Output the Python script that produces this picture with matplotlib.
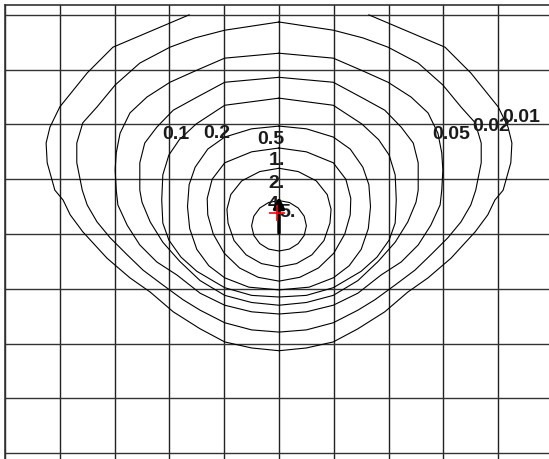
"""
Concentration isolines around a point source, drawn on a plain square grid.
Saves out.png (549x459 px).
"""
import numpy as np
import matplotlib
matplotlib.use('Agg')
import matplotlib.pyplot as plt

# Grid units: one cell = 1, source column at x = 0
GRID_X = np.arange(-5, 5)
GRID_Y = np.arange(-4, 5)

# Isoline levels and their labels
LEVELS = [0.01, 0.02, 0.05, 0.1, 0.2, 0.5, 1, 2, 4]

# Right half of every isoline (mirrored to the left)
c001_x = [1.64, 3.03, 3.50, 4.00, 4.18, 4.25, 4.23, 4.09, 3.94, 3.81, 3.58, 3.14, 2.72, 2.35, 1.93, 1.44, 0.99, 0.50, 0]
c001_y = [4.00, 3.41, 2.94, 2.32, 1.95, 1.66, 1.30, 0.80, 0.62, 0.35, 0.04, -0.44, -0.80, -1.06, -1.42, -1.73, -1.97, -2.08, -2.13]

c002_x = [0, 0.99, 1.53, 1.99, 2.54, 2.99, 3.32, 3.58, 3.69, 3.69, 3.59, 3.50, 3.32, 3.08, 2.77, 2.48, 2.12, 1.75, 1.44, 0.99, 0.50, 0]
c002_y = [3.87, 3.72, 3.58, 3.41, 3.12, 2.72, 2.32, 2.03, 1.66, 1.30, 0.80, 0.53, 0.22, -0.07, -0.38, -0.66, -0.93, -1.20, -1.39, -1.62, -1.75, -1.79]

c005_x = [0, 0.99, 1.50, 1.99, 2.41, 2.72, 2.90, 2.97, 2.99, 2.97, 2.94, 2.77, 2.54, 2.23, 1.86, 1.44, 0.99, 0.50, 0]
c005_y = [3.30, 3.21, 2.99, 2.77, 2.50, 2.21, 1.84, 1.48, 1.17, 0.80, 0.53, 0.16, -0.20, -0.51, -0.75, -1.08, -1.30, -1.42, -1.46]

c01_x = [0, 0.99, 1.53, 1.93, 2.23, 2.45, 2.54, 2.54, 2.50, 2.35, 2.12, 1.81, 1.44, 0.99, 0.50, 0]
c01_y = [2.86, 2.77, 2.48, 2.26, 1.95, 1.66, 1.30, 0.80, 0.58, 0.22, -0.15, -0.50, -0.85, -1.12, -1.25, -1.30]

c02_x = [0, 0.99, 1.51, 1.82, 2.01, 2.12, 2.14, 2.12, 2.01, 1.79, 1.50, 0.99, 0.50, 0]
c02_y = [2.48, 2.35, 2.01, 1.72, 1.44, 1.08, 0.62, 0.20, -0.11, -0.42, -0.68, -0.98, -1.12, -1.15]

c05_x = [0, 0.50, 0.99, 1.30, 1.53, 1.64, 1.67, 1.63, 1.50, 1.28, 0.99, 0.55, 0]
c05_y = [1.97, 1.92, 1.77, 1.55, 1.22, 0.90, 0.50, 0.10, -0.28, -0.58, -0.80, -0.97, -1.02]

c1_x = [0, 0.50, 0.99, 1.22, 1.31, 1.30, 1.20, 1.00, 0.72, 0.38, 0]
c1_y = [1.57, 1.50, 1.30, 1.00, 0.65, 0.35, 0.00, -0.35, -0.62, -0.79, -0.86]

c2_x = [0, 0.35, 0.68, 0.88, 0.95, 0.93, 0.82, 0.60, 0.32, 0]
c2_y = [1.20, 1.14, 0.97, 0.72, 0.45, 0.20, -0.12, -0.38, -0.54, -0.60]

c4_x = [0, 0.19, 0.35, 0.46, 0.50, 0.46, 0.35, 0.19, 0]
c4_y = [0.61, 0.575, 0.475, 0.325, 0.15, -0.025, -0.175, -0.275, -0.31]

CONTOURS = [(c001_x, c001_y), (c002_x, c002_y), (c005_x, c005_y), (c01_x, c01_y),
            (c02_x, c02_y), (c05_x, c05_y), (c1_x, c1_y), (c2_x, c2_y), (c4_x, c4_y)]

# Label text and where it sits
label_text = ['0.01', '0.02', '0.05', '0.1', '0.2', '0.5', '1.', '2.', '4.', '5.']
label_x = [4.42, 3.87, 3.14, -1.88, -1.13, -0.15, -0.04, -0.05, -0.05, 0.16]
label_y = [2.13, 1.97, 1.82, 1.81, 1.84, 1.72, 1.35, 0.93, 0.53, 0.40]

# Source and wind arrow
source_xy = (-0.04, 0.38)
arrow_from = (0, 0.02)
arrow_to = (0, 0.68)


def mirror(xs, ys):
    xs = np.asarray(xs, dtype=float)
    ys = np.asarray(ys, dtype=float)
    return np.concatenate([xs, -xs[::-1]]), np.concatenate([ys, ys[::-1]])


fig = plt.figure(figsize=(5.49, 4.59), dpi=100)
# axes run off the right and bottom edges of the picture, like a cropped map
ax = fig.add_axes([5 / 549, (459 - 469.6) / 459, 548 / 549, 464.6 / 459])
ax.set_xlim(-5, 5)
ax.set_ylim(-4.3, 4.18)

for gx in GRID_X:
    ax.axvline(gx, color='#222222', lw=1.0, zorder=1)
for gy in GRID_Y:
    ax.axhline(gy, color='#333333', lw=1.0, zorder=1)

for xs, ys in CONTOURS:
    fx, fy = mirror(xs, ys)
    ax.plot(fx, fy, color='black', lw=0.8, zorder=2)

# labels go under the arrow and source mark
for t, x, y in zip(label_text, label_x, label_y):
    ax.text(x, y, t, ha='center', va='center', fontsize=14, fontweight='bold',
            family=['Liberation Sans', 'DejaVu Sans'], color='#1a1a1a', zorder=3)

ax.annotate('', xy=arrow_to, xytext=arrow_from,
            arrowprops=dict(arrowstyle='-|>', color='black', lw=2.5,
                            mutation_scale=16, shrinkA=0, shrinkB=0), zorder=4)
ax.plot(*source_xy, marker='+', color='red', ms=11, mew=1.2, zorder=5)

ax.set_xticks([])
ax.set_yticks([])
for side in ax.spines.values():
    side.set_color('#333333')
    side.set_linewidth(1.2)

fig.savefig('out.png', dpi=100)
